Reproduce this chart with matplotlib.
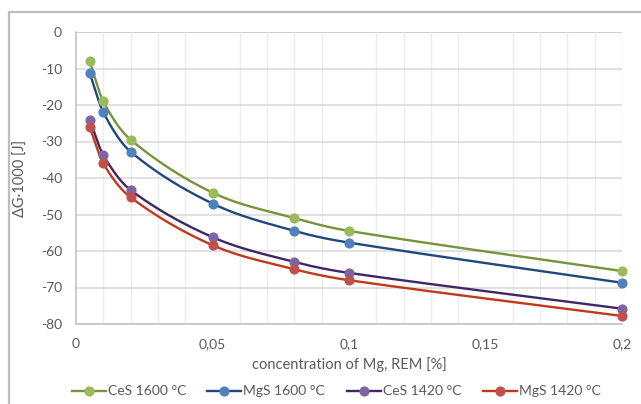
import numpy as np
import matplotlib
matplotlib.use("Agg")
import matplotlib.pyplot as plt
from matplotlib.lines import Line2D
from matplotlib.patches import Rectangle

plt.rcParams['font.family'] = ['Lato', 'DejaVu Sans']

# concentration of Mg, REM [%]
conc = [0.005, 0.01, 0.02, 0.05, 0.08, 0.1, 0.2]

# Gibbs energy change x1000 [J]
ces_1600 = [-8.0, -19.0, -29.5, -44.0, -51.0, -54.5, -65.5]
mgs_1600 = [-11.2, -22.0, -32.8, -47.0, -54.5, -57.7, -68.7]
ces_1420 = [-24.0, -33.7, -43.3, -56.2, -63.0, -66.0, -75.8]
mgs_1420 = [-26.0, -36.0, -45.3, -58.4, -65.0, -68.0, -77.8]

series_labels = ["CeS 1600 °C", "MgS 1600 °C", "CeS 1420 °C", "MgS 1420 °C"]
x_tick_labels = ["0", "0,05", "0,1", "0,15", "0,2"]
y_tick_labels = ["0", "-10", "-20", "-30", "-40", "-50", "-60", "-70", "-80"]

styles = [
    ("#77933C", "#9BBB59"),
    ("#1F497D", "#4F81BD"),
    ("#3F2763", "#8064A2"),
    ("#C0391B", "#C0504D"),
]
TEXT = "#595959"


def smooth(xs, ys, n=60):
    """Piecewise cubic Hermite curve through the points, tangents from neighbours."""
    x = np.asarray(xs, float)
    y = np.asarray(ys, float)
    m = np.empty_like(y)
    m[1:-1] = (y[2:] - y[:-2]) / (x[2:] - x[:-2])
    m[0] = (y[1] - y[0]) / (x[1] - x[0])
    m[-1] = (y[-1] - y[-2]) / (x[-1] - x[-2])
    px, py = [], []
    t = np.linspace(0, 1, n)
    for i in range(len(x) - 1):
        h = x[i + 1] - x[i]
        h00 = 2 * t ** 3 - 3 * t ** 2 + 1
        h10 = t ** 3 - 2 * t ** 2 + t
        h01 = -2 * t ** 3 + 3 * t ** 2
        h11 = t ** 3 - t ** 2
        sx = x[i] + t * h
        sy = h00 * y[i] + h10 * h * m[i] + h01 * y[i + 1] + h11 * h * m[i + 1]
        s = 0 if i == 0 else 1
        px.append(sx[s:])
        py.append(sy[s:])
    return np.concatenate(px), np.concatenate(py)


fig = plt.figure(figsize=(6.41, 4.04), dpi=100)
W, H = 641, 404
ax = fig.add_axes([76 / W, 1 - 324 / H, 546 / W, 292 / H])

# outer chart frame
fig.patches.append(Rectangle((9 / W, -0.05), 1.1, 1 - 12 / H + 0.05, transform=fig.transFigure,
                             fill=False, edgecolor="#BDBDBD", linewidth=1.6, zorder=0))

ax.set_xlim(0, 0.2)
ax.set_ylim(-80, 0)
ax.set_xticks(np.arange(0, 0.2001, 0.05))
ax.set_xticklabels(x_tick_labels)
ax.set_xticks(np.arange(0, 0.2001, 0.01), minor=True)
ax.set_yticks(np.arange(0, -80.001, -10))
ax.set_yticklabels(y_tick_labels)

ax.grid(True, which="major", axis="y", color="#D9D9D9", linewidth=1.1, zorder=0)
ax.grid(True, which="minor", axis="x", color="#EDEDED", linewidth=1.0, zorder=0)
ax.grid(False, which="major", axis="x")
ax.axhline(0, color="#A6A6A6", linewidth=1.2, zorder=1)
ax.axvline(0.2, color="#E3E3E3", linewidth=1.0, zorder=1)

for s in ["top", "right"]:
    ax.spines[s].set_visible(False)
for s in ["left", "bottom"]:
    ax.spines[s].set_color("#BFBFBF")
    ax.spines[s].set_linewidth(1.1)

ax.tick_params(which="both", length=0, labelsize=10, colors=TEXT, pad=10)
ax.tick_params(axis="x", pad=10)

for ys, (lc, mc) in zip([ces_1600, mgs_1600, ces_1420, mgs_1420], styles):
    sx, sy = smooth(conc, ys)
    ax.plot(sx, sy, color=lc, linewidth=1.7, zorder=3, solid_capstyle="round")
    ax.plot(conc, ys, linestyle="none", marker="o", markersize=6.3,
            markerfacecolor=mc, markeredgecolor=mc, zorder=4, clip_on=False)

ax.set_xlabel("concentration of Mg, REM [%]", fontsize=10.5, color=TEXT, labelpad=5)
ax.set_ylabel("ΔG·1000 [J]", fontsize=10.5, color=TEXT, labelpad=9)

# legend row below the axes
legend_x = [72, 207, 347, 483]
legend_y = 1 - 391 / H
for x0, (lc, mc), lab in zip(legend_x, styles, series_labels):
    fig.add_artist(Line2D([x0 / W, (x0 + 34) / W], [legend_y, legend_y], color=lc,
                          linewidth=1.7, transform=fig.transFigure))
    fig.add_artist(Line2D([(x0 + 17) / W], [legend_y], marker="o", markersize=6.3,
                          markerfacecolor=mc, markeredgecolor=mc, linestyle="none",
                          transform=fig.transFigure))
    fig.text((x0 + 36) / W, legend_y, lab, fontsize=10, color=TEXT, va="center", ha="left")

fig.savefig("out.png", dpi=100)
